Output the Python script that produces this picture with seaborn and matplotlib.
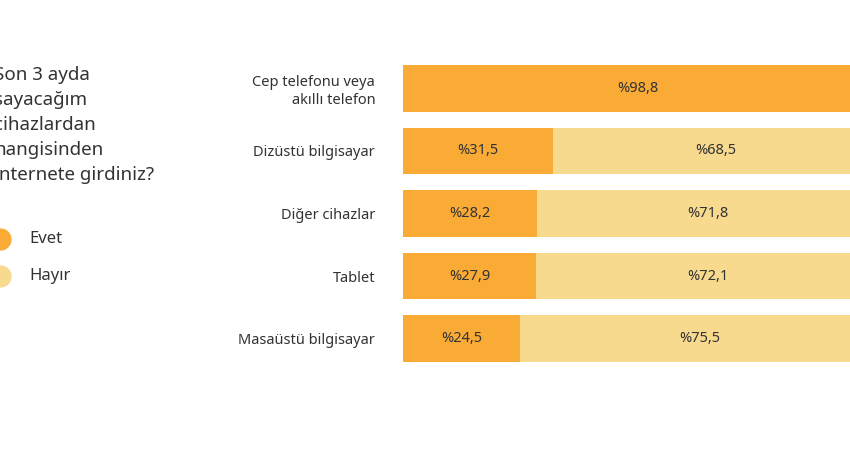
import matplotlib
matplotlib.use("Agg")
import matplotlib.pyplot as plt
import seaborn as sns
import pandas as pd

categories = ["Cep telefonu veya\nakıllı telefon", "Dizüstü bilgisayar", "Diğer cihazlar", "Tablet", "Masaüstü bilgisayar"]
evet = [98.8, 31.5, 28.2, 27.9, 24.5]
hayir = [1.2, 68.5, 71.8, 72.1, 75.5]
title_lines = ["Son 3 ayda", "sayacağım", "cihazlardan", "hangisinden", "internete girdiniz?"]
legend_labels = ["Evet", "Hayır"]
c_evet, c_hayir = "#F9AB36", "#F7DA8E"

sns.set_theme(style="white")
plt.rcParams["font.family"] = ["Noto Sans", "DejaVu Sans"]

df = pd.DataFrame({"cat": categories, "evet": evet, "hayir": hayir})
df["total"] = df["evet"] + df["hayir"]

fig = plt.figure(figsize=(8.5, 4.5), dpi=100)
ax = fig.add_axes([403/850, 1-362/450, 476/850, 297/450])
sns.barplot(data=df, y="cat", x="total", color=c_hayir, width=0.75, ax=ax, orient="h", saturation=1, linewidth=0)
sns.barplot(data=df, y="cat", x="evet", color=c_evet, width=0.75, ax=ax, orient="h", saturation=1, linewidth=0)
ax.set_xlim(0, 100)
ax.set_ylim(4.375, -0.375)
for i, (e, h) in enumerate(zip(evet, hayir)):
    ax.text(e/2, i, f"%{e:.1f}".replace(".", ","), ha="center", va="center", fontsize=10.5, color="#333333")
    if h > 5:
        ax.text(e + h/2, i, f"%{h:.1f}".replace(".", ","), ha="center", va="center", fontsize=10.5, color="#333333")
ax.set_xlabel(""); ax.set_ylabel("")
ax.set_xticks([])
ax.tick_params(axis="y", length=0, pad=20, labelsize=10.5, labelcolor="#333333")
sns.despine(ax=ax, left=True, bottom=True)

ov = fig.add_axes([0, 0, 1, 1], facecolor="none")
ov.set_xlim(0, 850); ov.set_ylim(450, 0); ov.axis("off")
for k, line in enumerate(title_lines):
    ov.text(-6, 75 + 25*k, line, fontsize=13.5, va="center", ha="left", color="#333333")
for k, (lab, c) in enumerate(zip(legend_labels, [c_evet, c_hayir])):
    y = 239 + 37*k
    ov.plot([0], [y], "o", markersize=15, color=c, clip_on=False)
    ov.text(29, y, lab, fontsize=12, va="center", color="#333333")

fig.savefig("out.png", dpi=100)
